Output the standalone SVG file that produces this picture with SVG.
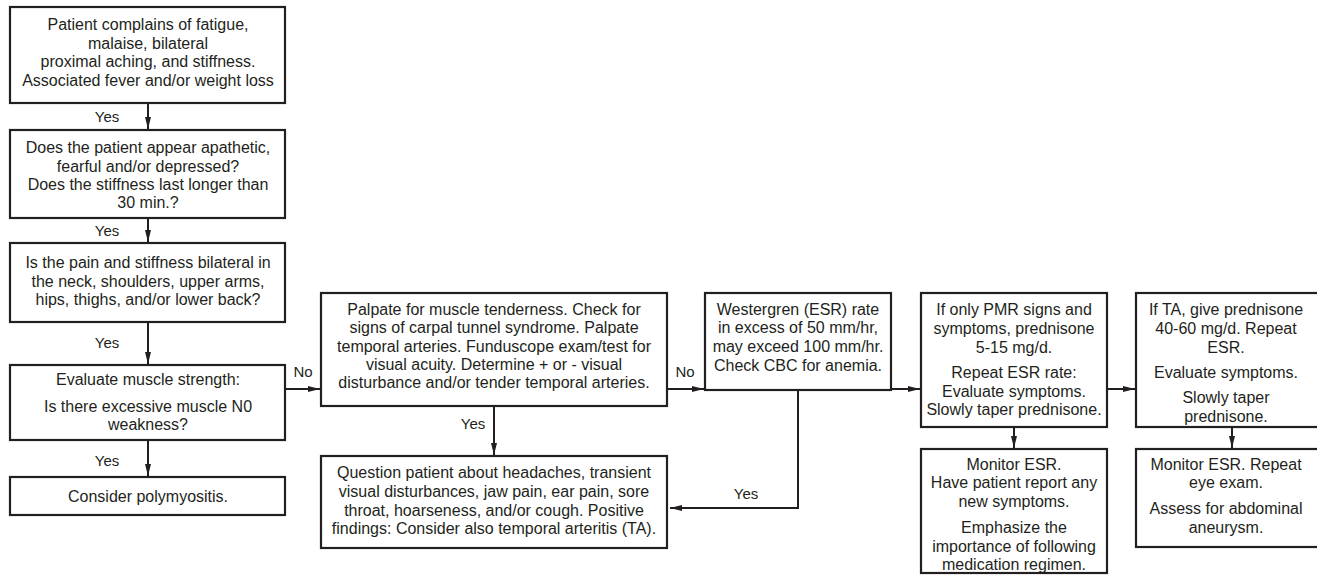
<svg xmlns="http://www.w3.org/2000/svg" width="1317" height="583" viewBox="0 0 1317 583">
<defs>
<marker id="ah" viewBox="0 0 12 8" refX="12" refY="4" markerWidth="12" markerHeight="8" markerUnits="userSpaceOnUse" orient="auto">
<path d="M0,1 L12,4 L0,7 Z" fill="#231f20"/>
</marker>
<style>
.box{fill:#fff;stroke:#231f20;stroke-width:2.2}
text{font-family:"Liberation Sans",Arial,sans-serif;font-size:16px;fill:#231f20;text-anchor:middle}
.lb{font-size:15px}
.c{fill:none;stroke:#231f20;stroke-width:2;marker-end:url(#ah)}
</style>
</defs>
<rect width="1317" height="583" fill="#fff"/>

<g id="connectors">
<line class="c" x1="148" y1="103" x2="148" y2="129"/>
<line class="c" x1="148" y1="218" x2="148" y2="242"/>
<line class="c" x1="148" y1="322" x2="148" y2="364"/>
<line class="c" x1="148" y1="440" x2="148" y2="476"/>
<line class="c" x1="285" y1="389" x2="320" y2="389"/>
<line class="c" x1="494" y1="406" x2="494" y2="455"/>
<line class="c" x1="667" y1="389" x2="704" y2="389"/>
<polyline class="c" points="798,390 798,508 670,508"/>
<line class="c" x1="891" y1="389" x2="920" y2="389"/>
<line class="c" x1="1107" y1="389" x2="1135" y2="389"/>
<line class="c" x1="1014" y1="427" x2="1014" y2="448"/>
<line class="c" x1="1232" y1="427" x2="1232" y2="448"/>
<text class="lb" x="107" y="122">Yes</text>
<text class="lb" x="107" y="236">Yes</text>
<text class="lb" x="107" y="348">Yes</text>
<text class="lb" x="107" y="466">Yes</text>
<text class="lb" x="303" y="377">No</text>
<text class="lb" x="473" y="429">Yes</text>
<text class="lb" x="685" y="377">No</text>
<text class="lb" x="746" y="499">Yes</text>
</g>

<g id="n1">
<rect class="box" x="10" y="7" width="275" height="96"/>
<text x="148" y="30">Patient complains of fatigue,</text>
<text x="148" y="49">malaise, bilateral</text>
<text x="148" y="67">proximal aching, and stiffness.</text>
<text x="148" y="86">Associated fever and/or weight loss</text>
</g>

<g id="n2">
<rect class="box" x="10" y="130" width="275" height="88"/>
<text x="148" y="153">Does the patient appear apathetic,</text>
<text x="148" y="172">fearful and/or depressed?</text>
<text x="148" y="190">Does the stiffness last longer than</text>
<text x="148" y="208">30 min.?</text>
</g>

<g id="n3">
<rect class="box" x="10" y="243" width="275" height="79"/>
<text x="148" y="268">Is the pain and stiffness bilateral in</text>
<text x="148" y="287">the neck, shoulders, upper arms,</text>
<text x="148" y="305">hips, thighs, and/or lower back?</text>
</g>

<g id="n4">
<rect class="box" x="10" y="365" width="275" height="75"/>
<text x="148" y="385">Evaluate muscle strength:</text>
<text x="148" y="412">Is there excessive muscle N0</text>
<text x="148" y="430">weakness?</text>
</g>

<g id="n5">
<rect class="box" x="10" y="477" width="275" height="38"/>
<text x="148" y="502">Consider polymyositis.</text>
</g>

<g id="n6">
<rect class="box" x="321" y="293" width="346" height="113"/>
<text x="494" y="315">Palpate for muscle tenderness. Check for</text>
<text x="494" y="333">signs of carpal tunnel syndrome. Palpate</text>
<text x="494" y="352">temporal arteries. Funduscope exam/test for</text>
<text x="494" y="370">visual acuity. Determine + or - visual</text>
<text x="494" y="388">disturbance and/or tender temporal arteries.</text>
</g>

<g id="n7">
<rect class="box" x="321" y="456" width="346" height="92"/>
<text x="494" y="478">Question patient about headaches, transient</text>
<text x="494" y="497">visual disturbances, jaw pain, ear pain, sore</text>
<text x="494" y="516">throat, hoarseness, and/or cough. Positive</text>
<text x="494" y="534">findings: Consider also temporal arteritis (TA).</text>
</g>

<g id="n8">
<rect class="box" x="705" y="293" width="186" height="97"/>
<text x="798" y="315">Westergren (ESR) rate</text>
<text x="798" y="333">in excess of 50 mm/hr,</text>
<text x="798" y="352">may exceed 100 mm/hr.</text>
<text x="798" y="371">Check CBC for anemia.</text>
</g>

<g id="n9">
<rect class="box" x="921" y="293" width="186" height="134"/>
<text x="1014" y="315">If only PMR signs and</text>
<text x="1014" y="334">symptoms, prednisone</text>
<text x="1014" y="353">5-15 mg/d.</text>
<text x="1014" y="378">Repeat ESR rate:</text>
<text x="1014" y="397">Evaluate symptoms.</text>
<text x="1014" y="415">Slowly taper prednisone.</text>
</g>

<g id="n10">
<rect class="box" x="1136" y="293" width="186" height="134"/>
<text x="1226" y="315">If TA, give prednisone</text>
<text x="1226" y="334">40-60 mg/d. Repeat</text>
<text x="1226" y="353">ESR.</text>
<text x="1226" y="378">Evaluate symptoms.</text>
<text x="1226" y="403">Slowly taper</text>
<text x="1226" y="422">prednisone.</text>
</g>

<g id="n11">
<rect class="box" x="921" y="449" width="186" height="124"/>
<text x="1014" y="470">Monitor ESR.</text>
<text x="1014" y="488">Have patient report any</text>
<text x="1014" y="507">new symptoms.</text>
<text x="1014" y="533">Emphasize the</text>
<text x="1014" y="552">importance of following</text>
<text x="1014" y="570">medication regimen.</text>
</g>

<g id="n12">
<rect class="box" x="1136" y="449" width="186" height="98"/>
<text x="1226" y="470">Monitor ESR. Repeat</text>
<text x="1226" y="488">eye exam.</text>
<text x="1226" y="514">Assess for abdominal</text>
<text x="1226" y="533">aneurysm.</text>
</g>
</svg>
